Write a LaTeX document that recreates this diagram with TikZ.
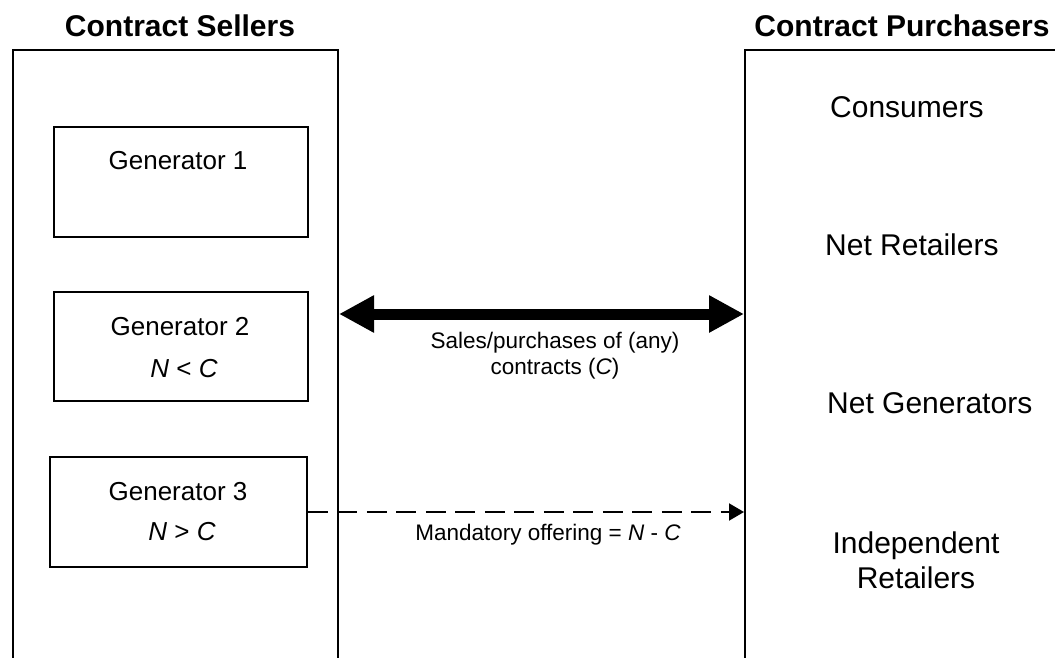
\documentclass[tikz,border=0pt]{standalone}
\usepackage{fontspec}
\setmainfont{Liberation Sans}
\usetikzlibrary{arrows.meta,calc}

\tikzset{
  title/.style={font=\fontsize{30}{36}\selectfont\bfseries, anchor=base, inner sep=0pt},
  party/.style={font=\fontsize{30}{35}\selectfont, anchor=base west, inner sep=0pt},
  column/.style={draw, line width=2pt, rectangle, inner sep=0pt},
  genbox/.style={draw, line width=1.8pt, rectangle, inner sep=0pt},
  gentext/.style={font=\fontsize{26}{30}\selectfont, anchor=base, inner sep=0pt},
  flowtext/.style={font=\fontsize{22.5}{26}\selectfont, anchor=base, inner sep=0pt, align=center},
  bigflow/.style={line width=11pt, {Triangle[length=35pt,width=35pt]}-{Triangle[length=35pt,width=35pt]}},
  offerflow/.style={line width=2pt, dash pattern=on 20pt off 9.5pt, -{Triangle[length=15pt,width=17pt]}}
}

\begin{document}
\begin{tikzpicture}[x=1pt, y=-1pt]
  \useasboundingbox (0,0) rectangle (1055,658);
  \clip (0,0) rectangle (1055,658);

  % column headings
  \node[title] (sellT) at (180,37) {Contract Sellers};
  \node[title] (buyT) at (902,37) {Contract Purchasers};

  % the two columns, running off the bottom of the page
  \node[column, minimum width=325pt, minimum height=700pt, anchor=north west] (sellers) at (12,49) {};
  \node[column, minimum width=400pt, minimum height=700pt, anchor=north west] (buyers) at (744,49) {};

  % generators
  \node[genbox, minimum width=254pt, minimum height=110pt] (gen1) at (181,182) {};
  \node[genbox, minimum width=254pt, minimum height=109pt] (gen2) at (181,346.5) {};
  \node[genbox, minimum width=257pt, minimum height=110pt] (gen3) at (178.5,512) {};

  \node[gentext] (g1) at (178,170) {Generator 1};
  \node[gentext] (g2) at (180,335) {Generator 2};
  \node[gentext] (g2c) at (184,377) {\textit{N} < \textit{C}};
  \node[gentext] (g3) at (178,500) {Generator 3};
  \node[gentext] (g3c) at (182,540) {\textit{N} > \textit{C}};

  % purchasers
  \node[party] (cons) at (830,118) {Consumers};
  \node[party] (netr) at (825,255) {Net Retailers};
  \node[party] (netg) at (827,413) {Net Generators};
  % a multi-line node's base is the baseline of its last line
  \node[font=\fontsize{30}{35}\selectfont, anchor=base, inner sep=0pt, align=center] (indr) at (916,588) {Independent\\Retailers};

  % bilateral contract trading
  \coordinate (trade) at (0,314);
  \draw[bigflow] (trade -| sellers.east) -- (trade -| buyers.west);
  \node[flowtext] (tradeL) at (555,374) {Sales/purchases of (any)\\contracts (\textit{C})};

  % mandatory offering
  \draw[offerflow] (gen3.east) -- (gen3.east -| buyers.west);
  \node[flowtext] (offerL) at (548,540) {Mandatory offering = \textit{N} - \textit{C}};
\end{tikzpicture}
\end{document}
